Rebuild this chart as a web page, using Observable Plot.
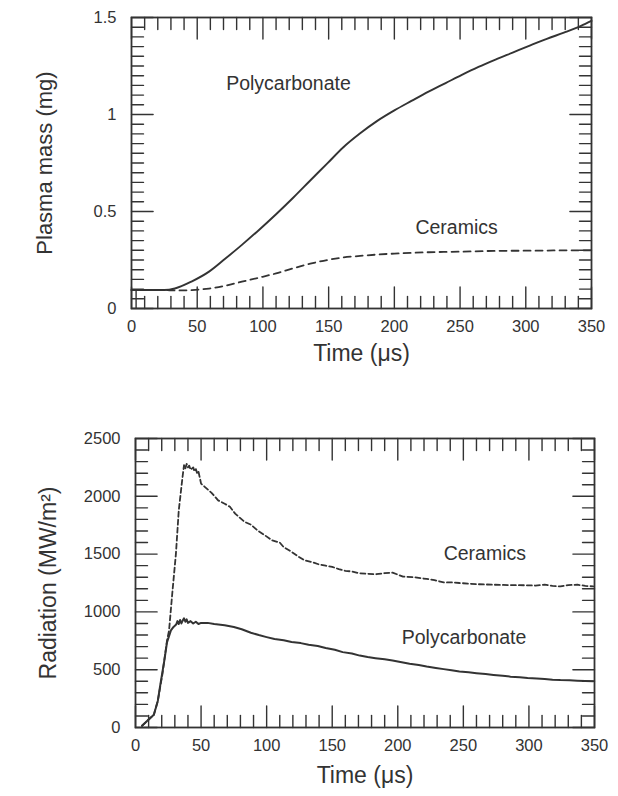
<!DOCTYPE html>
<html>
<head>
<meta charset="utf-8">
<script src="https://cdn.jsdelivr.net/npm/d3@7"></script>
<script src="https://cdn.jsdelivr.net/npm/@observablehq/plot@0.6"></script>
<style>
  html, body { margin: 0; padding: 0; background: #fff; }
  svg { display: block; }
  #chart { width: 618px; height: 796px; }
</style>
</head>
<body>
<div id="chart"></div>
<script>
// ---------- Top chart: plasma mass ----------
const massTimePoly = [0, 10, 25, 33, 46, 59, 71, 84, 97, 110, 123, 136, 149, 161, 174, 187, 200, 213, 226, 239, 251, 264, 277, 290, 303, 316, 329, 342, 350];
const massPoly     = [0.095, 0.095, 0.095, 0.103, 0.14, 0.19, 0.255, 0.328, 0.405, 0.486, 0.571, 0.66, 0.748, 0.83, 0.903, 0.967, 1.021, 1.07, 1.118, 1.162, 1.203, 1.245, 1.283, 1.319, 1.355, 1.39, 1.422, 1.457, 1.483];
const massTimeCer  = [0, 10, 25, 33, 46, 59, 71, 84, 97, 110, 123, 136, 149, 161, 174, 187, 200, 226, 251, 277, 303, 341, 350];
const massCer      = [0.095, 0.095, 0.095, 0.093, 0.095, 0.103, 0.117, 0.138, 0.159, 0.181, 0.207, 0.231, 0.25, 0.263, 0.271, 0.278, 0.283, 0.29, 0.293, 0.297, 0.298, 0.3, 0.3];
const massStartMarkTime = [3.5];
const massStartMarkValue = [0.095];
const massXTicksMajor = [0, 50, 100, 150, 200, 250, 300, 350];
const massYTicksMajor = [0, 0.5, 1, 1.5];
const massYTickLabels = ["0", "0.5", "1", "1.5"];
const massLabels = ["Polycarbonate", "Ceramics"];
const massLabelTime = [72, 216];
const massLabelValue = [1.16, 0.415];

// ---------- Bottom chart: radiation ----------
const radTimePoly = [5, 9, 14, 17, 19, 22, 24, 27, 29, 31, 32, 33, 34, 35, 36, 37, 38, 39, 40, 42, 44, 46, 48, 50, 55, 60, 68, 75, 81, 88, 94, 100, 106, 113, 119, 126, 132, 139, 145, 152, 158, 165, 171, 177, 183, 190, 196, 203, 209, 216, 222, 229, 235, 241, 247, 254, 260, 267, 273, 280, 286, 293, 299, 306, 312, 318, 324, 331, 337, 343, 349];
const radPoly     = [15, 58, 110, 230, 375, 580, 735, 840, 870, 890, 920, 895, 930, 900, 925, 945, 915, 935, 905, 920, 900, 915, 895, 905, 905, 895, 885, 870, 850, 820, 800, 782, 765, 755, 740, 730, 715, 705, 688, 672, 652, 640, 622, 610, 600, 590, 580, 565, 552, 540, 527, 515, 505, 495, 485, 478, 470, 462, 455, 448, 440, 434, 428, 424, 420, 414, 410, 408, 405, 402, 400];
const radTimeCer  = [5, 9, 14, 17, 20.5, 24, 25.6, 28, 30.8, 33, 36, 37, 38, 39, 40, 41, 42, 44, 45, 46, 47, 48, 50, 52, 55, 58, 63, 68, 72, 76, 83, 88, 93, 99, 104, 110, 113, 119, 124, 129, 135, 140, 145, 150, 155, 160, 165, 170, 177, 183, 190, 196, 204, 212, 222, 228, 235, 241, 247, 260, 273, 286, 299, 305, 312, 318, 324, 330, 337, 343, 349];
const radCer      = [15, 58, 110, 230, 460, 750, 840, 1155, 1500, 1880, 2180, 2270, 2240, 2280, 2250, 2265, 2230, 2250, 2215, 2235, 2200, 2215, 2110, 2090, 2060, 2030, 1965, 1935, 1910, 1850, 1780, 1755, 1705, 1660, 1620, 1600, 1560, 1520, 1480, 1445, 1430, 1410, 1400, 1390, 1370, 1355, 1350, 1335, 1330, 1325, 1335, 1340, 1305, 1300, 1285, 1275, 1255, 1255, 1250, 1240, 1235, 1232, 1230, 1228, 1235, 1225, 1220, 1232, 1235, 1225, 1220];
const radXTicksMajor = [0, 50, 100, 150, 200, 250, 300, 350];
const radYTicksMajor = [0, 500, 1000, 1500, 2000, 2500];
const radLabels = ["Ceramics", "Polycarbonate"];
const radLabelTime = [235, 203];
const radLabelValue = [1503, 775];

const ink = "#333";
const fontFamily = "'Liberation Sans', Arial, Helvetica, sans-serif";
const tickShape = {draw(context, l) { context.moveTo(0, 0); context.lineTo(0, -l); }};

function frameTicks(xmax, xMinorStep, xMajorStep, ymax, yMinorStep, yMajorStep) {
  const xs = d3.range(0, xmax + 1e-9, xMinorStep);
  const ys = d3.range(0, ymax + 1e-9, yMinorStep);
  const isMajor = (v, step) => Math.abs(v / step - Math.round(v / step)) < 1e-6;
  const lenX = d => isMajor(d, xMajorStep) ? 9 : 5;
  const lenY = d => isMajor(d, yMajorStep) ? 9 : 5;
  const common = {shape: tickShape, anchor: "start", stroke: ink, strokeWidth: 1.4};
  return [
    Plot.vector(xs, {x: d => d, y: 0, length: lenX, rotate: 0, ...common}),
    Plot.vector(xs, {x: d => d, y: ymax, length: lenX, rotate: 180, ...common}),
    Plot.vector(ys, {x: 0, y: d => d, length: lenY, rotate: 90, ...common}),
    Plot.vector(ys, {x: xmax, y: d => d, length: lenY, rotate: -90, ...common})
  ];
}

const massPolyData = massTimePoly.map((t, i) => ({t, v: massPoly[i]}));
const massCerData = massTimeCer.map((t, i) => ({t, v: massCer[i]}));
const massLabelData = massLabels.map((s, i) => ({s, t: massLabelTime[i], v: massLabelValue[i]}));

const massChart = Plot.plot({
  width: 618,
  height: 400,
  marginTop: 17,
  marginBottom: 92,
  marginLeft: 131,
  marginRight: 27,
  style: {fontFamily, color: ink, background: "#fff"},
  x: {domain: [0, 350]},
  y: {domain: [0, 1.5]},
  marks: [
    Plot.frame({stroke: ink, strokeWidth: 1.8}),
    ...frameTicks(350, 10, 50, 1.5, 0.05, 0.5),
    Plot.axisX({ticks: massXTicksMajor, tickSize: 0, tickPadding: 12, fontSize: 16.5, fill: ink, label: null, tickFormat: d => String(d)}),
    Plot.axisY({ticks: massYTicksMajor, tickSize: 0, tickPadding: 15, fontSize: 16.5, fill: ink, label: null, tickFormat: (d, i) => massYTickLabels[i]}),
    Plot.ruleX(massStartMarkTime, {x: d => d, y1: 0, y2: massStartMarkValue[0], stroke: ink, strokeWidth: 1.4}),
    Plot.line(massPolyData, {x: "t", y: "v", stroke: ink, strokeWidth: 1.9, curve: "monotone-x"}),
    Plot.line(massCerData, {x: "t", y: "v", stroke: ink, strokeWidth: 1.8, strokeDasharray: "7,5", curve: "monotone-x"}),
    Plot.text(massLabelData, {x: "t", y: "v", text: "s", textAnchor: "start", fontSize: 19.5, fill: ink}),
    Plot.text(["Time (μs)"], {frameAnchor: "bottom", dy: 52, fontSize: 23, fill: ink}),
    Plot.text(["Plasma mass (mg)"], {frameAnchor: "left", dx: -87, rotate: -90, textAnchor: "middle", fontSize: 22, fill: ink})
  ]
});

const radPolyData = radTimePoly.map((t, i) => ({t, v: radPoly[i]}));
const radCerData = radTimeCer.map((t, i) => ({t, v: radCer[i]}));
const radLabelData = radLabels.map((s, i) => ({s, t: radLabelTime[i], v: radLabelValue[i]}));

const radChart = Plot.plot({
  width: 618,
  height: 396,
  marginTop: 38,
  marginBottom: 69,
  marginLeft: 135,
  marginRight: 24,
  style: {fontFamily, color: ink, background: "#fff"},
  x: {domain: [0, 350]},
  y: {domain: [0, 2500]},
  marks: [
    Plot.frame({stroke: ink, strokeWidth: 1.8}),
    ...frameTicks(350, 10, 50, 2500, 100, 500),
    Plot.axisX({ticks: radXTicksMajor, tickSize: 0, tickPadding: 12, fontSize: 16.5, fill: ink, label: null, tickFormat: d => String(d)}),
    Plot.axisY({ticks: radYTicksMajor, tickSize: 0, tickPadding: 15, fontSize: 16.5, fill: ink, label: null, tickFormat: d => String(d)}),
    Plot.line(radCerData, {x: "t", y: "v", stroke: ink, strokeWidth: 1.8, strokeDasharray: "5,3"}),
    Plot.line(radPolyData, {x: "t", y: "v", stroke: ink, strokeWidth: 2}),
    Plot.text(radLabelData, {x: "t", y: "v", text: "s", textAnchor: "start", fontSize: 19.5, fill: ink}),
    Plot.text(["Time (μs)"], {frameAnchor: "bottom", dy: 55, fontSize: 23, fill: ink}),
    Plot.text(["Radiation (MW/m²)"], {frameAnchor: "left", dx: -87, rotate: -90, textAnchor: "middle", fontSize: 23, fill: ink})
  ]
});

const root = document.getElementById("chart");
root.appendChild(massChart);
root.appendChild(radChart);
</script>
</body>
</html>
